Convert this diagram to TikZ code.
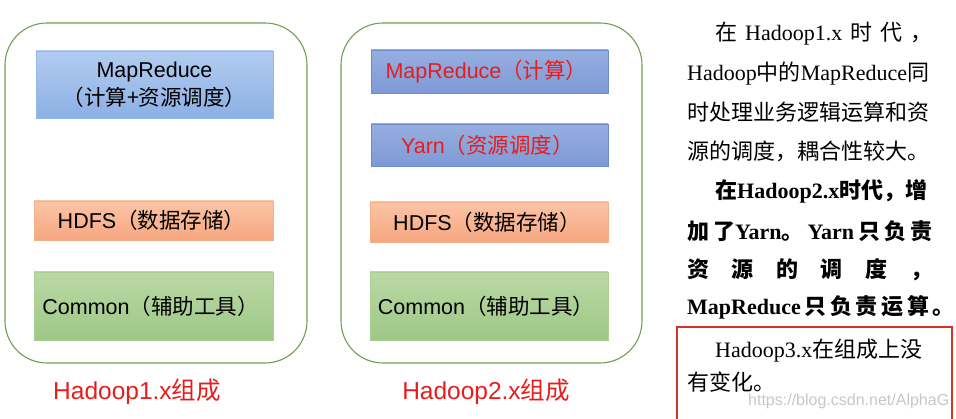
\documentclass[tikz,border=0pt]{standalone}
\usepackage{fontspec}
\setmainfont{Liberation Serif}
\setsansfont{Liberation Sans}
\newfontfamily\cjk{Noto Sans CJK SC}
\newcommand{\zh}[1]{{\cjk #1}}
\usetikzlibrary{
    positioning,  % relative placement
}
\definecolor{framegreen}{RGB}{112,160,72}
\definecolor{labelred}{RGB}{232,28,28}
\definecolor{framered}{RGB}{210,52,40}
\definecolor{blueAtop}{RGB}{178,204,240}
\definecolor{blueAbot}{RGB}{140,176,228}
\definecolor{blueAline}{RGB}{150,184,230}
\definecolor{blueBtop}{RGB}{150,175,224}
\definecolor{blueBbot}{RGB}{126,154,214}
\definecolor{blueBline}{RGB}{110,140,205}
\definecolor{orangetop}{RGB}{251,196,166}
\definecolor{orangebot}{RGB}{246,166,128}
\definecolor{orangeline}{RGB}{244,176,132}
\definecolor{greentop}{RGB}{186,217,165}
\definecolor{greenbot}{RGB}{158,199,134}
\definecolor{greenline}{RGB}{170,208,144}

\tikzset{
    hadoopbox/.style={draw=framegreen, line width=1.1pt, rounded corners=42pt, inner sep=0pt},
    layer/.style={inner sep=0pt, outer sep=0pt, align=center, font=\sffamily\fontsize{21.5}{28}\selectfont},
    mrlayer/.style={layer, draw=blueAline, top color=blueAtop, bottom color=blueAbot},
    bluelayer/.style={layer, draw=blueBline, top color=blueBtop, bottom color=blueBbot, text=labelred},
    hdfslayer/.style={layer, draw=orangeline, top color=orangetop, bottom color=orangebot},
    commonlayer/.style={layer, draw=greenline, top color=greentop, bottom color=greenbot},
    verlabel/.style={inner sep=0pt, text=labelred, font=\sffamily\fontsize{24.5}{28}\selectfont},
    txt/.style={inner sep=0pt, anchor=base west, font=\fontsize{22}{26}\selectfont},
    boldtxt/.style={txt, font=\fontsize{22}{26}\selectfont\bfseries},
}

\begin{document}
\begin{tikzpicture}[x=1pt, y=-1pt]
    \useasboundingbox (0,0) rectangle (956,419);
    \clip (0,0) rectangle (956,419);

    % Hadoop 1.x
    \node[hadoopbox, minimum width=302pt, minimum height=340pt] (g1) at (156,193) {};
    \node[mrlayer, minimum width=237pt, minimum height=67pt] (mr1) at (154.5,84.5)
        {MapReduce\\\zh{（计算+资源调度）}};
    \node[hdfslayer, minimum width=239pt, minimum height=39pt] (hdfs1) at (153.5,220.5)
        {HDFS\zh{（数据存储）}\hspace{4pt}};
    \node[commonlayer, minimum width=239pt, minimum height=68pt] (com1) at (153.5,306)
        {Common\zh{（辅助工具）}\hspace{6pt}};
    \node[verlabel] (lbl1) at (137,392) {Hadoop1.x\zh{组成}};

    % Hadoop 2.x
    \node[hadoopbox, minimum width=301pt, minimum height=340pt] (g2) at (491.5,193) {};
    \node[bluelayer, minimum width=237pt, minimum height=43pt] (mr2) at (489.5,71.5)
        {MapReduce\zh{（计算）}\hspace{6pt}};
    \node[bluelayer, minimum width=237pt, minimum height=42pt] (yarn2) at (489.5,145)
        {Yarn\zh{（资源调度）}\hspace{4pt}};
    \node[hdfslayer, minimum width=238pt, minimum height=40pt] (hdfs2) at (489,222)
        {HDFS\zh{（数据存储）}\hspace{4pt}};
    \node[commonlayer, minimum width=238pt, minimum height=68pt] (com2) at (489,306)
        {Common\zh{（辅助工具）}\hspace{6pt}};
    \node[verlabel] (lbl2) at (486,392) {Hadoop2.x\zh{组成}};

    % notes
    \node[txt] (p1) at (715,41) {\makebox[217pt][s]{\zh{在} Hadoop1.x \zh{时} \zh{代} \zh{，}}};
    \node[txt] (p2) at (687,81) {\makebox[245pt][s]{Hadoop\zh{中的}MapReduce\zh{同}}};
    \node[txt] (p3) at (687,121) {\zh{时处理业务逻辑运算和资}};
    \node[txt] (p4) at (687,160) {\zh{源的调度，耦合性较大。}};
    \node[boldtxt] (p5) at (715,199)
        {\makebox[215pt][s]{\zh{在}Hadoop2.x\zh{时代，增}}};
    \node[boldtxt] (p6) at (687,240)
        {\makebox[245pt][s]{\zh{加} \zh{了}Yarn\zh{。} Yarn \zh{只} \zh{负} \zh{责}}};
    \node[boldtxt] (p7) at (687,278)
        {\makebox[245pt][s]{\zh{资} \zh{源} \zh{的} \zh{调} \zh{度} \zh{，}}};
    \node[boldtxt] (p8) at (687,315)
        {\makebox[255pt][s]{MapReduce \zh{只} \zh{负} \zh{责} \zh{运} \zh{算} \zh{。}}};

    \draw[framered, line width=1.2pt] (677,327) rectangle (952,430);
    \node[txt] (p9) at (715,358) {Hadoop3.x\zh{在组成上没}};
    \node[txt] (p10) at (687,391) {\zh{有变化。}};
    \node[txt, font=\sffamily\fontsize{16}{18}\selectfont, text=black!22] (wm) at (748,406)
        {https://blog.csdn.net/AlphaG};
\end{tikzpicture}
\end{document}
